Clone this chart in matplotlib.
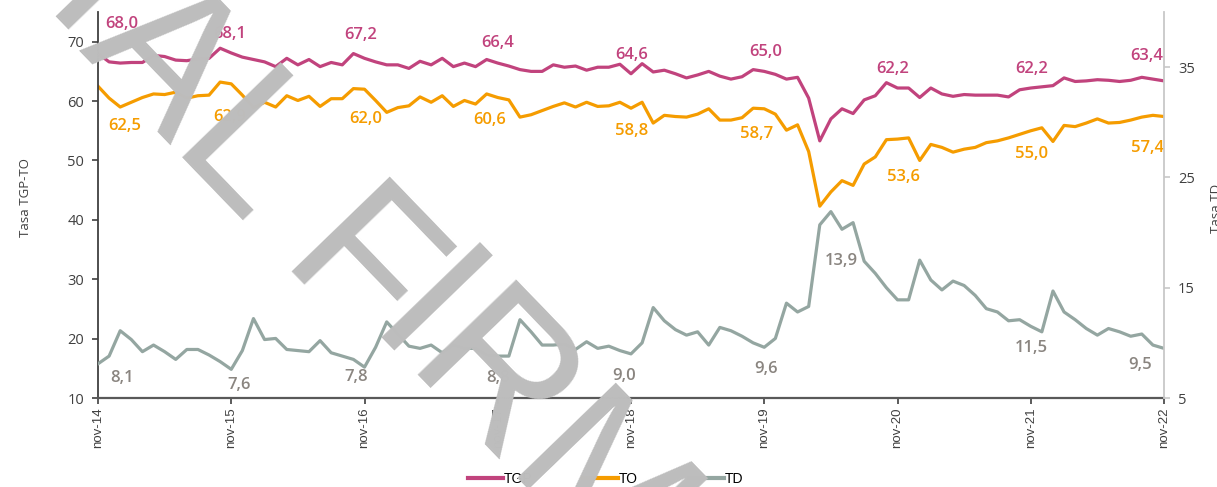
import matplotlib
matplotlib.use("Agg")
import matplotlib.pyplot as plt
from matplotlib.lines import Line2D

# monthly series, nov-14 .. nov-22 (moving quarter)
tgp = [68.0, 66.6, 66.4, 66.5, 66.5, 67.7, 67.5, 66.9, 66.8, 67.1, 67.2, 68.9,
       68.1, 67.4, 67.0, 66.6, 65.8, 67.2, 66.1, 67.0, 65.8, 66.5, 66.1, 68.0,
       67.2, 66.6, 66.1, 66.1, 65.5, 66.7, 66.1, 67.2, 65.8, 66.4, 65.8, 67.0,
       66.4, 65.9, 65.3, 65.0, 65.0, 66.1, 65.7, 65.9, 65.2, 65.7, 65.7, 66.2,
       64.6, 66.3, 64.9, 65.2, 64.6, 63.9, 64.4, 65.0, 64.2, 63.7, 64.1, 65.3,
       65.0, 64.5, 63.7, 64.0, 60.5, 53.3, 57.0, 58.7, 57.9, 60.2, 60.9, 63.1,
       62.2, 62.2, 60.6, 62.2, 61.2, 60.8, 61.1, 61.0, 61.0, 61.0, 60.7, 61.9,
       62.2, 62.4, 62.6, 63.9, 63.3, 63.4, 63.6, 63.5, 63.3, 63.5, 64.0, 63.7,
       63.4]
to = [62.5, 60.5, 59.0, 59.8, 60.6, 61.2, 61.1, 61.5, 60.5, 60.9, 61.0, 63.2,
      62.9, 61.0, 58.9, 59.8, 59.0, 60.9, 60.1, 60.8, 59.1, 60.4, 60.4, 62.1,
      62.0, 60.1, 58.1, 58.9, 59.2, 60.7, 59.8, 60.9, 59.1, 60.1, 59.5, 61.2,
      60.6, 60.2, 57.3, 57.7, 58.4, 59.1, 59.7, 59.0, 59.8, 59.1, 59.2, 59.8,
      58.8, 59.8, 56.3, 57.6, 57.4, 57.3, 57.8, 58.7, 56.8, 56.8, 57.2, 58.8,
      58.7, 57.8, 55.1, 56.0, 51.5, 42.3, 44.7, 46.6, 45.8, 49.4, 50.6, 53.5,
      53.6, 53.8, 50.0, 52.7, 52.2, 51.4, 51.9, 52.2, 53.0, 53.3, 53.8, 54.4,
      55.0, 55.5, 53.2, 55.9, 55.7, 56.3, 57.0, 56.3, 56.4, 56.8, 57.3, 57.6,
      57.4]
td = [8.1, 8.8, 11.1, 10.3, 9.2, 9.8, 9.2, 8.5, 9.4, 9.4, 8.9, 8.3,
      7.6, 9.3, 12.2, 10.3, 10.4, 9.4, 9.3, 9.2, 10.2, 9.1, 8.8, 8.5,
      7.8, 9.6, 11.9, 10.8, 9.7, 9.5, 9.8, 9.1, 9.8, 9.5, 9.5, 8.9,
      8.8, 8.8, 12.1, 11.0, 9.8, 9.8, 9.9, 9.4, 10.1, 9.5, 9.7, 9.3,
      9.0, 10.0, 13.2, 12.0, 11.2, 10.7, 11.0, 9.8, 11.4, 11.1, 10.6, 10.0,
      9.6, 10.4, 13.6, 12.8, 13.3, 20.7, 21.9, 20.3, 20.9, 17.4, 16.3, 15.0,
      13.9, 13.9, 17.5, 15.7, 14.8, 15.6, 15.2, 14.3, 13.1, 12.8, 12.0, 12.1,
      11.5, 11.0, 14.7, 12.8, 12.1, 11.3, 10.7, 11.3, 11.0, 10.6, 10.8, 9.8,
      9.5]

tick_idx = [0, 12, 24, 36, 48, 60, 72, 84, 96]
tick_lab = ["nov-14", "nov-15", "nov-16", "nov-17", "nov-18", "nov-19",
            "nov-20", "nov-21", "nov-22"]

lab_tgp = ["68,0", "68,1", "67,2", "66,4", "64,6", "65,0", "62,2", "62,2", "63,4"]
lab_to = ["62,5", "62,9", "62,0", "60,6", "58,8", "58,7", "53,6", "55,0", "57,4"]
lab_td = ["8,1", "7,6", "7,8", "8,8", "9,0", "9,6", "13,9", "11,5", "9,5"]

# label offsets in pixels
off_tgp = [(24, 30), (-1, 19), (-4, 23), (0, 20), (1, 19), (1, 19), (-5, 19), (1, 19), (-17, 25)]
off_to = [(27, -40), (-2, -33), (1, -30), (-8, -22), (1, -23), (-8, -25), (6, -38), (1, -23), (-17, -31)]
off_td = [(24, -14), (8, -16), (-8, -10), (0, -22), (-7, -22), (2, -22), (-56, 39), (1, -22), (-24, -17)]

c_tgp = "#c1437d"
c_to = "#f59c00"
c_td = "#94a6a1"
c_tdlab = "#8a8580"
dark = "#404040"

plt.rcParams['font.family'] = ['Open Sans', 'DejaVu Sans']

fig = plt.figure(figsize=(12.17, 4.87), dpi=100)
ax = fig.add_axes([98 / 1217, 1 - 398 / 487, (1164 - 98) / 1217, (398 - 12) / 487])
ax2 = ax.twinx()

x = list(range(len(tgp)))
ax.plot(x, tgp, color=c_tgp, lw=2.3, solid_joinstyle='round')
ax.plot(x, to, color=c_to, lw=2.3, solid_joinstyle='round')
ax2.plot(x, td, color=c_td, lw=2.3, solid_joinstyle='round')

ax.set_xlim(0, 96)
ax.set_ylim(10, 75)
ax.set_yticks([10, 20, 30, 40, 50, 60, 70])
ax2.set_ylim(5, 40)
ax2.set_yticks([5, 15, 25, 35])

ax.set_xticks(tick_idx)
ax.set_xticklabels(tick_lab, rotation=90, family='Liberation Sans', fontsize=9.5, color=dark)
ax.tick_params(axis='x', length=4, width=1.2, color=dark, pad=3)
ax.tick_params(axis='y', length=4, width=1.2, color=dark, labelsize=10.5, labelcolor=dark, pad=6)
ax2.tick_params(axis='y', length=4, width=1.2, color='#c8c8c8', labelsize=10.5, labelcolor=dark, pad=6)

for a in (ax, ax2):
    a.spines['top'].set_visible(False)
ax.spines['right'].set_visible(False)
ax2.spines['left'].set_visible(False)
ax2.spines['bottom'].set_visible(False)
ax.spines['left'].set_color(dark)
ax.spines['left'].set_linewidth(1.3)
ax.spines['bottom'].set_color('#595959')
ax.spines['bottom'].set_linewidth(1.6)
ax2.spines['right'].set_color('#c8c8c8')
ax2.spines['right'].set_linewidth(1.3)

ax.set_ylabel("Tasa TGP-TO", fontsize=9.5, color=dark)
ax.yaxis.set_label_coords(-66 / 1066, 0.52, transform=ax.transAxes)
ax2.set_ylabel("Tasa TD", fontsize=9.5, color=dark)
ax2.yaxis.set_label_coords(1 + 46 / 1066, 0.49, transform=ax2.transAxes)

for i, (t, o) in enumerate(zip(lab_tgp, off_tgp)):
    k = tick_idx[i]
    ax.annotate(t, (k, tgp[k]), xytext=o, textcoords='offset pixels', ha='center', va='center',
                fontsize=12, fontweight='semibold', color=c_tgp)
for i, (t, o) in enumerate(zip(lab_to, off_to)):
    k = tick_idx[i]
    ax.annotate(t, (k, to[k]), xytext=o, textcoords='offset pixels', ha='center', va='center',
                fontsize=12, fontweight='semibold', color=c_to)
for i, (t, o) in enumerate(zip(lab_td, off_td)):
    k = tick_idx[i]
    ax2.annotate(t, (k, td[k]), xytext=o, textcoords='offset pixels', ha='center', va='center',
                 fontsize=12, fontweight='semibold', color=c_tdlab)

handles = [Line2D([], [], color=c_tgp, lw=3), Line2D([], [], color=c_to, lw=3),
           Line2D([], [], color=c_td, lw=3)]
fig.legend(handles, ["TGP", "TO", "TD"], loc='center', bbox_to_anchor=(0.4975, 1 - 479 / 487),
           ncol=3, frameon=False, handlelength=2.5, handletextpad=0.05, columnspacing=3.7,
           prop={'family': 'Liberation Sans', 'size': 10})

# watermark (drawn in pieces, the original letters sit tighter than Liberation Sans)
wm = dict(fontsize=143, family='Liberation Sans', color='#bdbdbd', rotation=-46,
          rotation_mode='anchor', va='baseline', zorder=10)
fig.text(78 / 1217, 1 - 50 / 487, "OFICI", ha='right', **wm)
fig.text(78 / 1217, 1 - 50 / 487, "AL F", ha='left', **wm)
fig.text(362 / 1217, 1 - 337 / 487, "IRMADO", ha='left', **wm)

fig.savefig("out.png", dpi=100)
